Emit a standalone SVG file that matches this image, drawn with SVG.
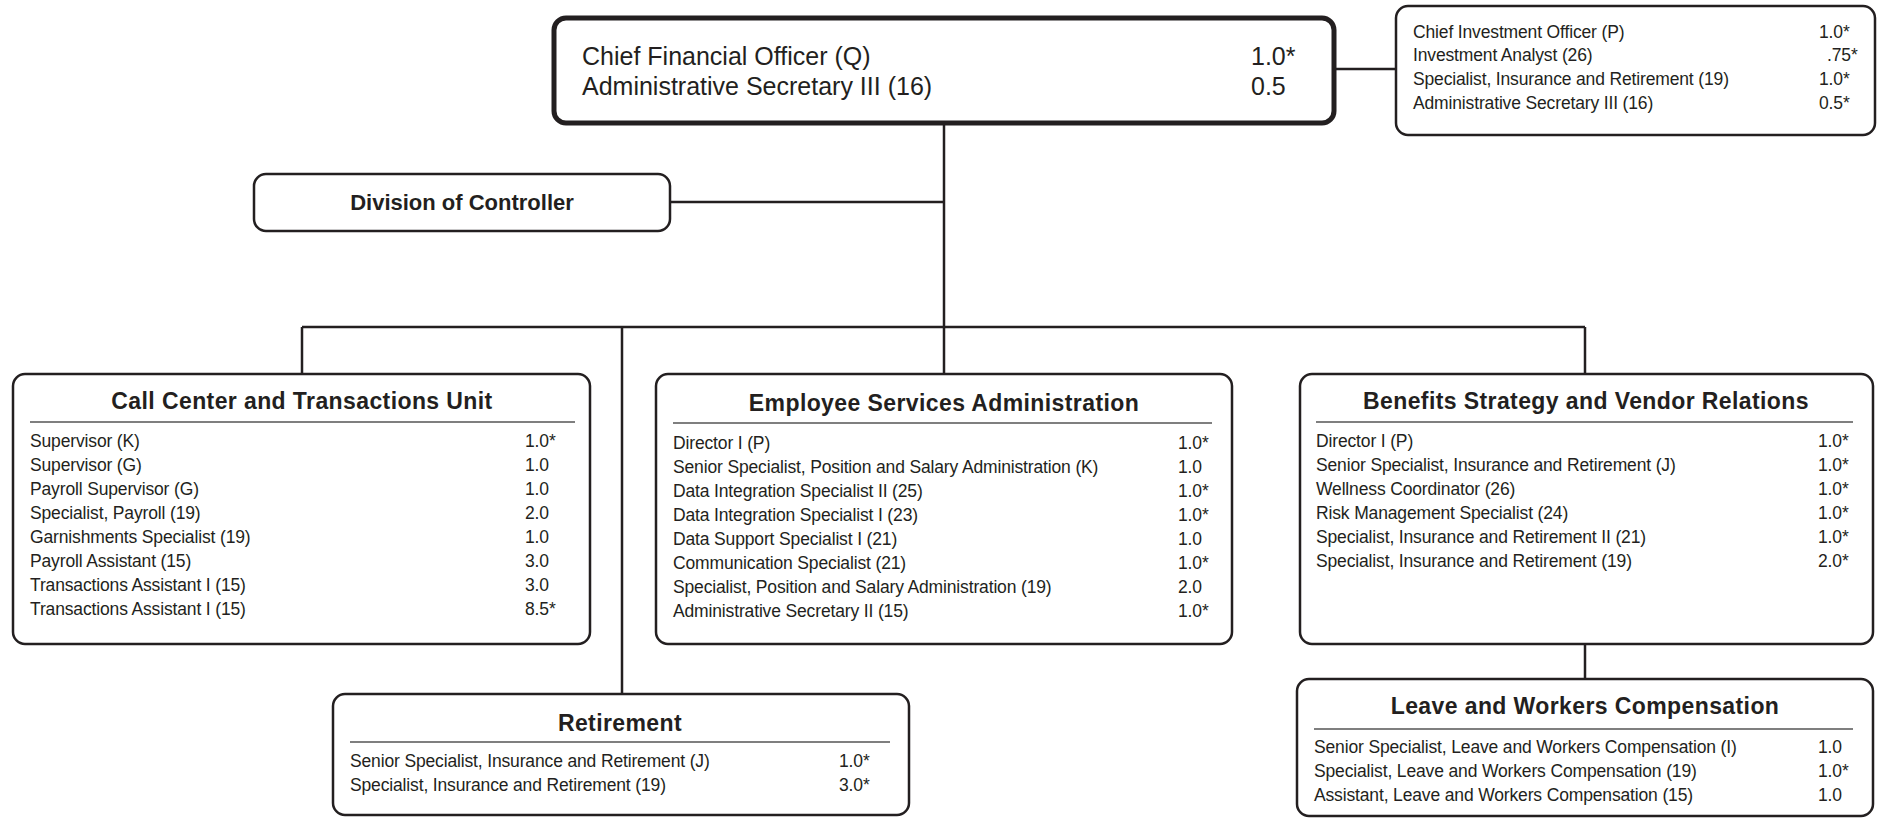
<svg xmlns="http://www.w3.org/2000/svg" width="1885" height="819" viewBox="0 0 1885 819">
<style>
.box{fill:#fff;stroke:#231f20;stroke-width:2.5}
.cfo{fill:#fff;stroke:#231f20;stroke-width:5}
.con{fill:none;stroke:#231f20;stroke-width:2.5}
.sep{stroke:#555;stroke-width:1.5}
text{font-family:"Liberation Sans Narrow","Liberation Sans",sans-serif;font-stretch:condensed;fill:#231f20}
.t{font-size:17.5px;letter-spacing:-0.15px}
.big{font-size:25px}
.h{font-size:23px;font-weight:bold;text-anchor:middle;letter-spacing:0.4px}
</style>
<rect width="1885" height="819" fill="#fff"/>
<g id="connectors">
<path class="con" d="M1334 69H1396"/>
<path class="con" d="M944 123V374"/>
<path class="con" d="M670 202H944"/>
<path class="con" d="M302 327H1585"/>
<path class="con" d="M302 327V374"/>
<path class="con" d="M622 327V694"/>
<path class="con" d="M1585 327V374"/>
<path class="con" d="M1585 644V679"/>
</g>
<g id="cfo">
<rect class="cfo" x="554" y="18" width="780" height="105" rx="12"/>
<text class="big" x="582" y="65">Chief Financial Officer (Q)</text>
<text class="big" x="582" y="95">Administrative Secretary III (16)</text>
<text class="big" x="1251" y="65">1.0*</text>
<text class="big" x="1251" y="95">0.5</text>
</g>
<g id="investment">
<rect class="box" x="1396" y="6" width="479" height="129" rx="12"/>
<text class="t" x="1413" y="38">Chief Investment Officer (P)</text>
<text class="t" x="1413" y="61">Investment Analyst (26)</text>
<text class="t" x="1413" y="85">Specialist, Insurance and Retirement (19)</text>
<text class="t" x="1413" y="109">Administrative Secretary III (16)</text>
<text class="t" x="1819" y="38">1.0*</text>
<text class="t" x="1827" y="61">.75*</text>
<text class="t" x="1819" y="85">1.0*</text>
<text class="t" x="1819" y="109">0.5*</text>
</g>
<g id="controller">
<rect class="box" x="254" y="174" width="416" height="57" rx="12"/>
<text class="h" x="462" y="210" style="font-size:22px;letter-spacing:0">Division of Controller</text>
</g>
<g id="callcenter">
<rect class="box" x="13" y="374" width="577" height="270" rx="12"/>
<text class="h" x="302" y="409">Call Center and Transactions Unit</text>
<line class="sep" x1="30" y1="422" x2="575" y2="422"/>
<text class="t" x="30" y="447">Supervisor (K)</text>
<text class="t" x="30" y="471">Supervisor (G)</text>
<text class="t" x="30" y="495">Payroll Supervisor (G)</text>
<text class="t" x="30" y="519">Specialist, Payroll (19)</text>
<text class="t" x="30" y="543">Garnishments Specialist (19)</text>
<text class="t" x="30" y="567">Payroll Assistant (15)</text>
<text class="t" x="30" y="591">Transactions Assistant I (15)</text>
<text class="t" x="30" y="615">Transactions Assistant I (15)</text>
<text class="t" x="525" y="447">1.0*</text>
<text class="t" x="525" y="471">1.0</text>
<text class="t" x="525" y="495">1.0</text>
<text class="t" x="525" y="519">2.0</text>
<text class="t" x="525" y="543">1.0</text>
<text class="t" x="525" y="567">3.0</text>
<text class="t" x="525" y="591">3.0</text>
<text class="t" x="525" y="615">8.5*</text>
</g>
<g id="esa">
<rect class="box" x="656" y="374" width="576" height="270" rx="12"/>
<text class="h" x="944" y="411">Employee Services Administration</text>
<line class="sep" x1="673" y1="423" x2="1212" y2="423"/>
<text class="t" x="673" y="449">Director I (P)</text>
<text class="t" x="673" y="473">Senior Specialist, Position and Salary Administration (K)</text>
<text class="t" x="673" y="497">Data Integration Specialist II (25)</text>
<text class="t" x="673" y="521">Data Integration Specialist I (23)</text>
<text class="t" x="673" y="545">Data Support Specialist I (21)</text>
<text class="t" x="673" y="569">Communication Specialist (21)</text>
<text class="t" x="673" y="593">Specialist, Position and Salary Administration (19)</text>
<text class="t" x="673" y="617">Administrative Secretary II (15)</text>
<text class="t" x="1178" y="449">1.0*</text>
<text class="t" x="1178" y="473">1.0</text>
<text class="t" x="1178" y="497">1.0*</text>
<text class="t" x="1178" y="521">1.0*</text>
<text class="t" x="1178" y="545">1.0</text>
<text class="t" x="1178" y="569">1.0*</text>
<text class="t" x="1178" y="593">2.0</text>
<text class="t" x="1178" y="617">1.0*</text>
</g>
<g id="benefits">
<rect class="box" x="1300" y="374" width="573" height="270" rx="12"/>
<text class="h" x="1586" y="409">Benefits Strategy and Vendor Relations</text>
<line class="sep" x1="1316" y1="422" x2="1853" y2="422"/>
<text class="t" x="1316" y="447">Director I (P)</text>
<text class="t" x="1316" y="471">Senior Specialist, Insurance and Retirement (J)</text>
<text class="t" x="1316" y="495">Wellness Coordinator (26)</text>
<text class="t" x="1316" y="519">Risk Management Specialist (24)</text>
<text class="t" x="1316" y="543">Specialist, Insurance and Retirement II (21)</text>
<text class="t" x="1316" y="567">Specialist, Insurance and Retirement (19)</text>
<text class="t" x="1818" y="447">1.0*</text>
<text class="t" x="1818" y="471">1.0*</text>
<text class="t" x="1818" y="495">1.0*</text>
<text class="t" x="1818" y="519">1.0*</text>
<text class="t" x="1818" y="543">1.0*</text>
<text class="t" x="1818" y="567">2.0*</text>
</g>
<g id="retirement">
<rect class="box" x="333" y="694" width="576" height="121" rx="12"/>
<text class="h" x="620" y="731">Retirement</text>
<line class="sep" x1="350" y1="742" x2="890" y2="742"/>
<text class="t" x="350" y="767">Senior Specialist, Insurance and Retirement (J)</text>
<text class="t" x="350" y="791">Specialist, Insurance and Retirement (19)</text>
<text class="t" x="839" y="767">1.0*</text>
<text class="t" x="839" y="791">3.0*</text>
</g>
<g id="leave">
<rect class="box" x="1297" y="679" width="576" height="137" rx="12"/>
<text class="h" x="1585" y="714">Leave and Workers Compensation</text>
<line class="sep" x1="1314" y1="729" x2="1853" y2="729"/>
<text class="t" x="1314" y="753">Senior Specialist, Leave and Workers Compensation (I)</text>
<text class="t" x="1314" y="777">Specialist, Leave and Workers Compensation (19)</text>
<text class="t" x="1314" y="801">Assistant, Leave and Workers Compensation (15)</text>
<text class="t" x="1818" y="753">1.0</text>
<text class="t" x="1818" y="777">1.0*</text>
<text class="t" x="1818" y="801">1.0</text>
</g>
</svg>
